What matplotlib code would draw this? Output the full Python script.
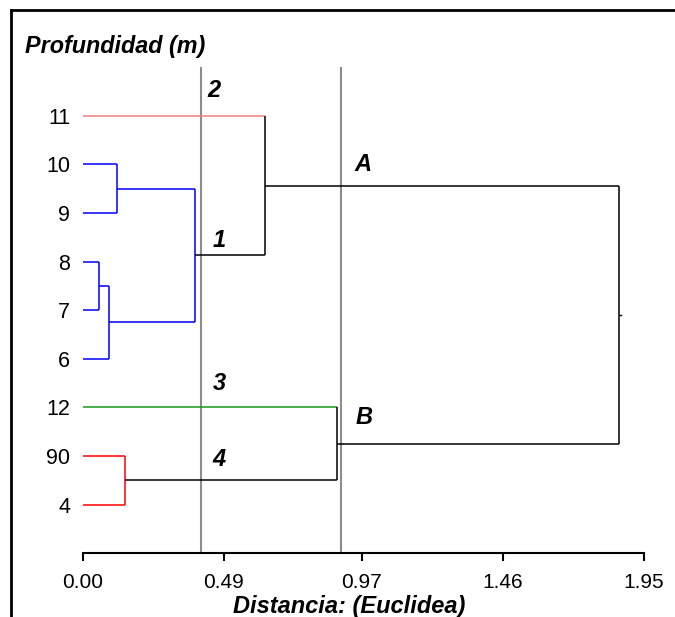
import matplotlib
matplotlib.use('Agg')
import matplotlib.pyplot as plt
from matplotlib.lines import Line2D

plt.rcParams['font.family'] = ['Liberation Sans', 'DejaVu Sans']

# leaves from bottom to top
leaf_labels = ['4', '90', '12', '6', '7', '8', '9', '10', '11']
leaf_colors = {'11': '#f07f7f', '12': '#1a9a1a'}

# merges: (child a, child b, distance, colour); new node ids start at 9
merge_a = [5, 9, 7, 11, 8, 1, 2, 13]
merge_b = [4, 3, 6, 10, 12, 0, 14, 15]
merge_dist = [0.057, 0.091, 0.119, 0.390, 0.635, 0.147, 0.885, 1.864]
merge_color = ['blue', 'blue', 'blue', 'blue', 'black', 'red', 'black', 'black']

cut_lines = [0.41, 0.898]
xticks = [0.00, 0.49, 0.97, 1.46, 1.95]

group_names = ['2', '1', 'A', '3', '4', 'B']
group_x = [0.455, 0.475, 0.975, 0.475, 0.475, 0.978]
group_y = [9.52, 6.44, 8.0, 3.5, 1.92, 2.8]


def main():
    fig = plt.figure(figsize=(6.75, 6.17), dpi=100)
    ax = fig.add_axes([82.7 / 675, 1 - 553.3 / 617, 561 / 675, (553.3 - 67) / 617])

    # node positions
    ys = [i + 1 for i in range(len(leaf_labels))]
    hs = [0.0] * len(leaf_labels)
    for a, b, d, c in zip(merge_a, merge_b, merge_dist, merge_color):
        for child in (a, b):
            col = c
            if child < len(leaf_labels) and leaf_labels[child] in leaf_colors:
                col = leaf_colors[leaf_labels[child]]
            ax.plot([hs[child], d], [ys[child], ys[child]], color=col, lw=1.1,
                    solid_capstyle='butt')
        ax.plot([d, d], [ys[a], ys[b]], color=c, lw=1.1, solid_capstyle='butt')
        ys.append((ys[a] + ys[b]) / 2)
        hs.append(d)
    # root stub
    ax.plot([hs[-1], hs[-1] + 0.008], [ys[-1], ys[-1]], color='black', lw=1.0)

    for x in cut_lines:
        ax.plot([x, x], [0, 10], color='#8c8c8c', lw=1.5, zorder=0)

    for name, x, y in zip(group_names, group_x, group_y):
        ax.text(x, y, name, fontsize=17, fontweight='bold', fontstyle='italic',
                ha='center', va='center')

    ax.set_xlim(0, 1.95)
    ax.set_ylim(0, 10)
    ax.set_xticks(xticks)
    ax.set_xticklabels(['%.2f' % v for v in xticks])
    ax.set_yticks(range(1, len(leaf_labels) + 1))
    ax.set_yticklabels(leaf_labels)
    ax.tick_params(axis='y', length=0, pad=9, labelsize=15.5)
    ax.tick_params(axis='x', length=6, width=1.5, pad=8, labelsize=15)
    for s in ['left', 'top', 'right']:
        ax.spines[s].set_visible(False)
    ax.spines['bottom'].set_linewidth(1.5)

    fig.text(25 / 675, 1 - 47 / 617, 'Profundidad (m)', fontsize=16.8,
             fontweight='bold', fontstyle='italic', ha='left', va='center')
    fig.text(349 / 675, 1 - 606 / 617, 'Distancia: (Euclidea)', fontsize=17,
             fontweight='bold', fontstyle='italic', ha='center', va='center')

    # frame around the figure (cut at right and bottom)
    fig.add_artist(Line2D([11 / 675, 1.0], [1 - 10 / 617, 1 - 10 / 617],
                          color='black', lw=2, transform=fig.transFigure))
    fig.add_artist(Line2D([11 / 675, 11 / 675], [1 - 10 / 617, 0.0],
                          color='black', lw=2, transform=fig.transFigure))

    fig.savefig('out.png', dpi=100)


if __name__ == '__main__':
    main()
